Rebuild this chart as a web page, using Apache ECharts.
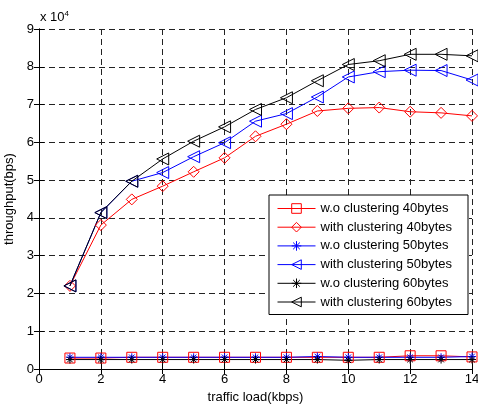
<!DOCTYPE html>
<html lang="en">
<head>
    <meta charset="UTF-8">
    <title>throughput</title>
    <script src="https://cdn.jsdelivr.net/npm/echarts@6/dist/echarts.min.js"></script>
    <style>
        html, body { margin: 0; padding: 0; background: #fff; }
        #chart { width: 478px; height: 406px; }
    </style>
</head>
<body>
<div id="chart"></div>
<script>
    var load = [1, 2, 3, 4, 5, 6, 7, 8, 9, 10, 11, 12, 13, 14];
    var wo40 = [2900, 2900, 3100, 3100, 3100, 3100, 3100, 3100, 3100, 3100, 3100, 3500, 3500, 3200];
    var with40 = [22000, 38100, 44900, 48400, 52200, 55900, 61600, 64800, 68300, 69000, 69200, 68100, 67800, 67000];
    var wo50 = [3100, 3100, 3100, 3100, 3100, 3100, 3100, 3100, 3300, 3100, 3100, 3100, 3100, 3300];
    var with50 = [22000, 41400, 49700, 52000, 56200, 59900, 65600, 67600, 72000, 77300, 78700, 79100, 79000, 76500];
    var wo60 = [2500, 2500, 2500, 2500, 2500, 2500, 2500, 2500, 2500, 2300, 2500, 2500, 2500, 2500];
    var with60 = [22000, 41400, 49700, 55600, 60300, 64100, 68700, 71800, 76300, 80600, 81600, 83300, 83300, 82900];
    var names = ['w.o clustering 40bytes', 'with clustering 40bytes', 'w.o clustering 50bytes',
        'with clustering 50bytes', 'w.o clustering 60bytes', 'with clustering 60bytes'];
    var colors = ['#ff0000', '#ff0000', '#0000ff', '#0000ff', '#000000', '#000000'];

    var FONT = 'Liberation Sans, Arial, sans-serif';
    var STAR = 'path://M5,0 L5,10 M0,5 L10,5 M1.5,1.5 L8.5,8.5 M8.5,1.5 L1.5,8.5';
    var TRI = 'path://M0,5 L10,0 L10,10 Z';

    function pairs(arr) {
        return arr.map(function (v, i) { return [load[i], v]; });
    }
    function mk(name, data, color, symbol, size) {
        return {
            name: name,
            type: 'line',
            data: pairs(data),
            symbol: symbol,
            symbolSize: size,
            showAllSymbol: true,
            lineStyle: {color: color, width: 1},
            itemStyle: {color: 'rgba(0,0,0,0)', borderColor: color, borderWidth: 1},
            emphasis: {disabled: true},
            animation: false
        };
    }

    var chart = echarts.init(document.getElementById('chart'));
    var gridLine = {show: true, lineStyle: {color: '#222', type: [6, 4], width: 1}};
    var option = {
        backgroundColor: '#fff',
        animation: false,
        textStyle: {fontFamily: FONT},
        grid: {left: 39, right: 6, top: 29, bottom: 37, outerBoundsMode: 'none', containLabel: false},
        legend: {
            orient: 'vertical',
            left: 269,
            top: 195,
            padding: [7, 16, 6, 8],
            itemWidth: 38,
            itemHeight: 12,
            itemGap: 5.7,
            borderColor: '#000',
            borderWidth: 1,
            borderRadius: 0,
            backgroundColor: '#fff',
            textStyle: {fontFamily: FONT, fontSize: 13, color: '#000'},
            data: names.map(function (n, i) {
                return {
                    name: n,
                    itemStyle: {color: 'rgba(0,0,0,0)', borderColor: colors[i], borderWidth: 1},
                    lineStyle: {color: colors[i], width: 1}
                };
            })
        },
        graphic: [{
            type: 'text',
            left: 40,
            top: 10,
            style: {
                text: 'x 10{s|4}',
                fontFamily: FONT, fontSize: 13, fill: '#000',
                rich: {s: {fontSize: 8, verticalAlign: 'top', padding: [0, 0, 6, 0]}}
            }
        }],
        xAxis: [{
            type: 'value', min: 0, max: 14, interval: 2,
            name: 'traffic load(kbps)', nameLocation: 'middle', nameGap: 19,
            nameTextStyle: {fontFamily: FONT, fontSize: 13, color: '#000'},
            axisLine: {onZero: false, lineStyle: {color: '#000', width: 1}},
            axisTick: {inside: true, length: 5, lineStyle: {color: '#000'}},
            axisLabel: {fontFamily: FONT, fontSize: 13, color: '#000', margin: 4},
            splitLine: gridLine
        }, {
            type: 'value', min: 0, max: 14, interval: 2, position: 'top',
            axisLine: {show: true, lineStyle: {color: '#000', width: 1}},
            axisTick: {show: true, inside: true, length: 5, lineStyle: {color: '#000'}},
            axisLabel: {show: false},
            splitLine: {show: false}
        }],
        yAxis: [{
            type: 'value', min: 0, max: 90000, interval: 10000,
            name: 'throughput(bps)', nameLocation: 'middle', nameGap: 23,
            nameTextStyle: {fontFamily: FONT, fontSize: 13, color: '#000'},
            axisLine: {show: true, onZero: false, lineStyle: {color: '#000', width: 1}},
            axisTick: {show: true, inside: true, length: 5, lineStyle: {color: '#000'}},
            axisLabel: {fontFamily: FONT, fontSize: 13, color: '#000', margin: 5,
                formatter: function (v) { return v / 10000; }},
            splitLine: gridLine
        }, {
            type: 'value', min: 0, max: 90000, interval: 10000, position: 'right',
            axisLine: {show: true, lineStyle: {color: '#000', width: 1}},
            axisTick: {show: true, inside: true, length: 5, lineStyle: {color: '#000'}},
            axisLabel: {show: false},
            splitLine: {show: false}
        }],
        series: [
            mk(names[0], wo40, colors[0], 'rect', 10),
            mk(names[1], with40, colors[1], 'diamond', 11),
            mk(names[2], wo50, colors[2], STAR, 8),
            mk(names[3], with50, colors[3], TRI, 12),
            mk(names[4], wo60, colors[4], STAR, 8),
            mk(names[5], with60, colors[5], TRI, 12)
        ]
    };
    chart.setOption(option);
</script>
</body>
</html>
